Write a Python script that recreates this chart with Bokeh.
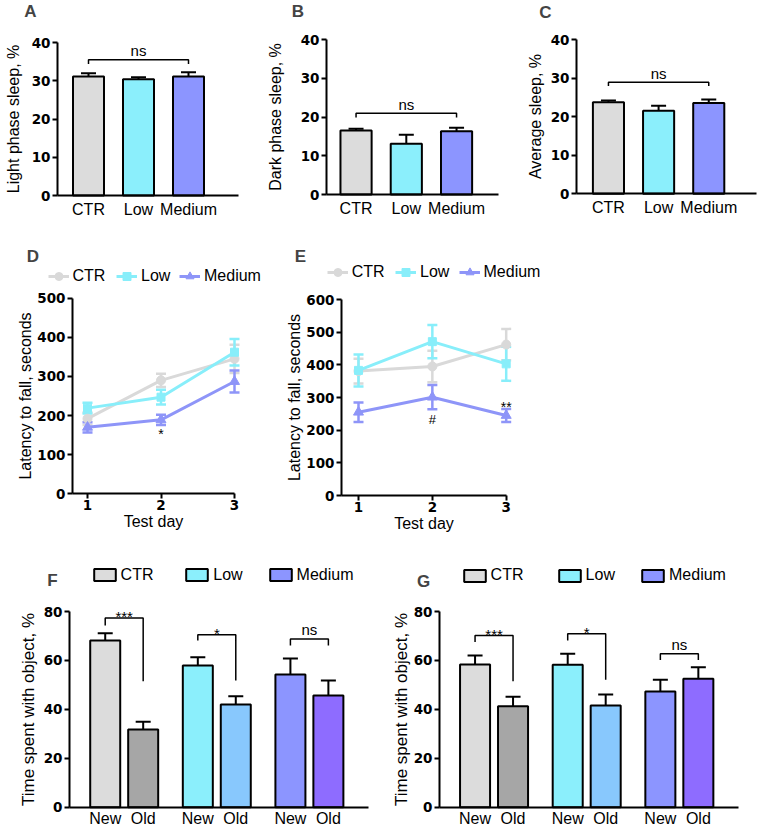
from bokeh.plotting import figure
from bokeh.models import (Range1d, FixedTicker, Label, Legend, LegendItem, Whisker,
                          TeeHead, ColumnDataSource)
from bokeh.layouts import row, column
from bokeh.embed import file_html
from bokeh.resources import INLINE
from bokeh.core.properties import value

# ---------------- data ----------------
groups = ["CTR", "Low", "Medium"]
group_pos = [1, 2, 3]
sleep_ticks = [0, 10, 20, 30, 40]

light_sleep = [31.1, 30.4, 31.1]
light_sleep_err = [0.85, 0.5, 1.1]
light_bracket = [35.5, 34.4, 34.4]      # top, left leg end, right leg end

dark_sleep = [16.5, 13.1, 16.3]
dark_sleep_err = [0.5, 2.3, 0.9]
dark_bracket = [21.0, 19.9, 19.9]

avg_sleep = [23.8, 21.6, 23.6]
avg_sleep_err = [0.45, 1.3, 0.9]
avg_bracket = [29.0, 28.0, 28.0]

days = [1, 2, 3]
d_ticks = [0, 100, 200, 300, 400, 500]
d_ctr = [192, 290, 345]
d_ctr_err = [16, 17, 36]
d_low = [219, 247, 362]
d_low_err = [14, 19, 34]
d_med = [170, 189, 287]
d_med_err = [13, 13, 28]

e_ticks = [0, 100, 200, 300, 400, 500, 600]
e_ctr = [381, 395, 462]
e_ctr_err = [38, 48, 48]
e_low = [383, 471, 403]
e_low_err = [49, 51, 52]
e_med = [255, 301, 245]
e_med_err = [30, 37, 20]

obj_ticks = [0, 20, 40, 60, 80]
f_new = [68.1, 57.9, 54.2]
f_new_err = [3.0, 3.4, 6.6]
f_old = [31.8, 42.0, 45.7]
f_old_err = [3.1, 3.4, 6.1]
f_brackets = [[77.3, 74.3, 51.5], [70.5, 68.1, 51.8], [68.8, 66.1, 66.1]]
f_marks = ["***", "*", "ns"]

g_new = [58.3, 58.2, 47.3]
g_new_err = [3.7, 4.5, 4.8]
g_old = [41.3, 41.6, 52.5]
g_old_err = [3.9, 4.5, 4.7]
g_brackets = [[70.2, 67.5, 51.5], [70.9, 68.1, 52.1], [62.7, 60.2, 60.2]]
g_marks = ["***", "*", "ns"]

# ---------------- style ----------------
FONT = "Liberation Sans"
TICKFONT = "DejaVu Sans"
C_CTR, C_LOW, C_MED = "#DCDCDC", "#8BEFFC", "#8C95FF"
C_CTR_OLD, C_LOW_OLD, C_MED_OLD = "#A6A6A6", "#88C8FD", "#8E6CFF"
L_CTR, L_LOW, L_MED = "#D9D9D9", "#88EEFA", "#8E95F8"


class Panel:
    """A figure whose frame fills the whole canvas; axes are pinned with fixed_location."""

    def __init__(self, x0, y0, w, h, xa, xb, fb, yb):
        self.x0, self.y0, self.w, self.h = x0, y0, w, h
        self.xa, self.xb, self.fb, self.yb = xa, xb, fb, yb
        self.p = figure(width=w, height=h, output_backend="svg", toolbar_location=None,
                        x_range=Range1d((x0 - xa) / xb, (x0 + w - xa) / xb),
                        y_range=Range1d((fb - (y0 + h)) / yb, (fb - y0) / yb),
                        min_border_left=0, min_border_right=0,
                        min_border_top=0, min_border_bottom=0)
        p = self.p
        p.outline_line_color = None
        p.xgrid.visible = False
        p.ygrid.visible = False
        p.background_fill_color = "white"
        p.border_fill_color = "white"

    def dx(self, px):
        return (px - self.xa) / self.xb

    def dy(self, py):
        return (self.fb - py) / self.yb

    def letter(self, txt, px, py):
        self.p.add_layout(Label(x=self.dx(px), y=self.dy(py), text=txt, text_font=FONT,
                                text_font_style="bold", text_font_size="17px",
                                text_align="center", text_baseline="middle"))

    def legend(self, label, renderers, px_left, py_center, gw, gh, standoff, hh, index=None):
        item = LegendItem(label=label, renderers=renderers)
        if index is not None:
            item.index = index
        self.p.add_layout(Legend(items=[item],
                                 location=(px_left - self.x0,
                                           (self.y0 + self.h) - (py_center + hh / 2)),
                                 orientation="horizontal", padding=0, margin=0, spacing=0,
                                 glyph_width=gw, glyph_height=gh, label_standoff=standoff,
                                 label_text_font=FONT, label_text_font_size="16px",
                                 label_text_color="black", border_line_color=None,
                                 background_fill_alpha=0))


def style_y(P, axis_px, ticks, label, size, standoff):
    ax = P.p.yaxis[0]
    ax.fixed_location = P.dx(axis_px)
    ax.ticker = FixedTicker(ticks=ticks)
    ax.bounds = (0, ticks[-1])
    ax.axis_label = label
    ax.axis_label_text_font = FONT
    ax.axis_label_text_font_style = "normal"
    ax.axis_label_text_font_size = size
    ax.axis_label_standoff = standoff
    ax.major_label_text_font = TICKFONT
    ax.major_label_text_font_style = "bold"
    ax.major_label_text_font_size = "13.5px"
    ax.major_label_standoff = 2
    ax.major_tick_out = 5
    ax.major_tick_in = 0
    ax.minor_tick_line_color = None
    ax.axis_line_width = 2
    ax.major_tick_line_width = 2
    ax.axis_line_color = "black"
    ax.major_tick_line_color = "black"
    ax.major_label_text_color = "black"
    ax.axis_label_text_color = "black"


def style_x_cat(P, axis_px, ticks, labels, end_px, standoff):
    ax = P.p.xaxis[0]
    ax.fixed_location = 0
    ax.ticker = FixedTicker(ticks=ticks)
    ax.major_label_overrides = {t: l for t, l in zip(ticks, labels)}
    ax.bounds = (P.dx(axis_px), P.dx(end_px))
    ax.major_tick_line_color = None
    ax.major_tick_out = 0
    ax.major_tick_in = 0
    ax.minor_tick_line_color = None
    ax.major_label_text_font = FONT
    ax.major_label_text_font_size = "16px"
    ax.major_label_text_color = "black"
    ax.major_label_standoff = standoff
    ax.axis_line_width = 2
    ax.axis_line_color = "black"


def style_x_days(P, axis_px):
    ax = P.p.xaxis[0]
    ax.fixed_location = 0
    ax.ticker = FixedTicker(ticks=days)
    ax.bounds = (P.dx(axis_px), days[-1])
    ax.axis_label = "Test day"
    ax.axis_label_text_font = FONT
    ax.axis_label_text_font_style = "normal"
    ax.axis_label_text_font_size = "16px"
    ax.axis_label_text_color = "black"
    ax.axis_label_standoff = 0
    ax.major_label_text_font = TICKFONT
    ax.major_label_text_font_style = "bold"
    ax.major_label_text_font_size = "13.5px"
    ax.major_label_text_color = "black"
    ax.major_label_standoff = 1
    ax.major_tick_out = 5
    ax.major_tick_in = 0
    ax.minor_tick_line_color = None
    ax.axis_line_width = 2
    ax.major_tick_line_width = 2
    ax.axis_line_color = "black"
    ax.major_tick_line_color = "black"


def bars(P, xs, vals, errs, colors, width):
    src = ColumnDataSource(dict(x=xs, top=vals, up=[v + e for v, e in zip(vals, errs)],
                                color=colors))
    P.p.add_layout(Whisker(base="x", lower="top", upper="up", source=src, dimension="height",
                           line_color="black", line_width=2,
                           upper_head=TeeHead(size=15, line_width=2, line_color="black"),
                           lower_head=None))
    return P.p.vbar(x="x", top="top", width=width, source=src, fill_color="color",
                    line_color="black", line_width=2)


def mark_text(P, x, y, txt, size, y_off):
    P.p.text(x=[x], y=[y], text=[txt], text_align="center", text_baseline="top",
             y_offset=y_off, text_font=value(FONT), text_font_size=size, text_color="black")


def bracket(P, xl, xr, b, mark):
    top, ll, lr = b
    P.p.multi_line(xs=[[xl, xl, xr, xr]], ys=[[ll, top, top, lr]], line_color="black",
                   line_width=1.5)
    if mark.startswith("*"):
        mark_text(P, (xl + xr) / 2, top, mark, "15px", -9.8)
    else:
        mark_text(P, (xl + xr) / 2, top, mark, "15px", -17.6)


def series(P, xs, vals, errs, color, marker, size):
    src = ColumnDataSource(dict(x=xs, y=vals, lo=[v - e for v, e in zip(vals, errs)],
                                hi=[v + e for v, e in zip(vals, errs)]))
    P.p.add_layout(Whisker(base="x", lower="lo", upper="hi", source=src, dimension="height",
                           line_color=color, line_width=2.5,
                           upper_head=TeeHead(size=10, line_width=2.5, line_color=color),
                           lower_head=TeeHead(size=10, line_width=2.5, line_color=color)))
    ln = P.p.line(x="x", y="y", source=src, line_color=color, line_width=3)
    sc = P.p.scatter(x="x", y="y", source=src, marker=marker, size=size, fill_color=color,
                     line_color=color)
    return [ln, sc]


# ---------------- A, B, C ----------------
cols3 = [C_CTR, C_LOW, C_MED]
A = Panel(0, 0, 250, 225, 38, 50, 195, (195 - 42) / 40)
B = Panel(250, 0, 250, 225, 305.3, 50.25, 194, (194 - 39) / 40)
C = Panel(500, 0, 260, 225, 557.8, 50.15, 193.3, (193.3 - 39.3) / 40)
for P, vals, errs, br, lab, ax_px, stand, xend in [
        (A, light_sleep, light_sleep_err, light_bracket, "Light phase sleep, %", 57, 7, 238),
        (B, dark_sleep, dark_sleep_err, dark_bracket, "Dark phase sleep, %", 326, 14, 498),
        (C, avg_sleep, avg_sleep_err, avg_bracket, "Average sleep, %", 576, 4, 756)]:
    bars(P, group_pos, vals, errs, cols3, 0.62)
    bracket(P, group_pos[0], group_pos[2], br, "ns")
    style_y(P, ax_px, sleep_ticks, lab, "16px", stand)
    style_x_cat(P, ax_px, group_pos, groups, xend, 5)
A.letter("A", 30, 11)
B.letter("B", 297.5, 11)
C.letter("C", 545, 11.5)

# ---------------- D, E ----------------
D = Panel(0, 225, 262, 315, 13.5, 73.5, 493.3, (493.3 - 297.7) / 500)
E = Panel(262, 225, 498, 315, 284.15, 73.85, 495, (495 - 299) / 600)
for P, data, ticks, ax_px, stand, lx, ly in [
        (D, [(d_ctr, d_ctr_err), (d_low, d_low_err), (d_med, d_med_err)], d_ticks, 72, 0,
         [47.5, 116, 179], 275.5),
        (E, [(e_ctr, e_ctr_err), (e_low, e_low_err), (e_med, e_med_err)], e_ticks, 341, 0,
         [326.7, 395, 458.5], 272.3)]:
    rs = []
    for (v, e), col, mk, sz in zip(data, [L_CTR, L_LOW, L_MED],
                                   ["circle", "square", "triangle"], [9, 8, 10]):
        rs.append(series(P, days, v, e, col, mk, sz))
    for lab, r, x in zip(groups, rs, lx):
        P.legend(lab, r, x, ly, 21, 20, 4, 20)
    style_y(P, ax_px, ticks, "Latency to fall, seconds", "16px", stand)
    style_x_days(P, ax_px)

mark_text(D, days[1], d_med[1] - d_med_err[1], "*", "14px", 1.1)
mark_text(E, days[1], e_med[1] - e_med_err[1], "#", "13px", 2.7)
mark_text(E, days[2], e_med[2] + e_med_err[2], "**", "14px", -10)
D.letter("D", 32.5, 256)
E.letter("E", 300, 256)

# ---------------- F, G ----------------
F = Panel(0, 540, 378, 289, 31.1, 92.6, 806.7, (806.7 - 611) / 80)
G = Panel(378, 540, 382, 289, 400.9, 92.65, 806.7, (806.7 - 611) / 80)
off = 0.205
new_x = [g - off for g in group_pos]
old_x = [g + off for g in group_pos]
for P, nv, ne, ov, oe, brs, marks, ax_px, end_px, lx, ly, stand in [
        (F, f_new, f_new_err, f_old, f_old_err, f_brackets, f_marks, 69, 368,
         [90.6, 183.3, 266.6], 572.5, 3),
        (G, g_new, g_new_err, g_old, g_old_err, g_brackets, g_marks, 439, 738,
         [460.6, 555.6, 639], 573.3, 0)]:
    rn = bars(P, new_x, nv, ne, [C_CTR, C_LOW, C_MED], 0.324)
    bars(P, old_x, ov, oe, [C_CTR_OLD, C_LOW_OLD, C_MED_OLD], 0.324)
    for i in range(3):
        bracket(P, new_x[i], old_x[i], brs[i], marks[i])
    style_y(P, ax_px, obj_ticks, "Time spent with object, %", "17px", stand)
    ticks = []
    labs = []
    for a, b in zip(new_x, old_x):
        ticks += [a, b]
        labs += ["New", "Old"]
    style_x_cat(P, ax_px, ticks, labs, end_px, 3)
    for i, (lab, x) in enumerate(zip(groups, lx)):
        P.legend(lab, [rn], x, ly, 27, 15, 3, 22, index=i)
F.letter("F", 52, 580)
G.letter("G", 423, 580.5)

layout = column(row(A.p, B.p, C.p), row(D.p, E.p), row(F.p, G.p))
open("out.html", "w").write(file_html(layout, INLINE))
